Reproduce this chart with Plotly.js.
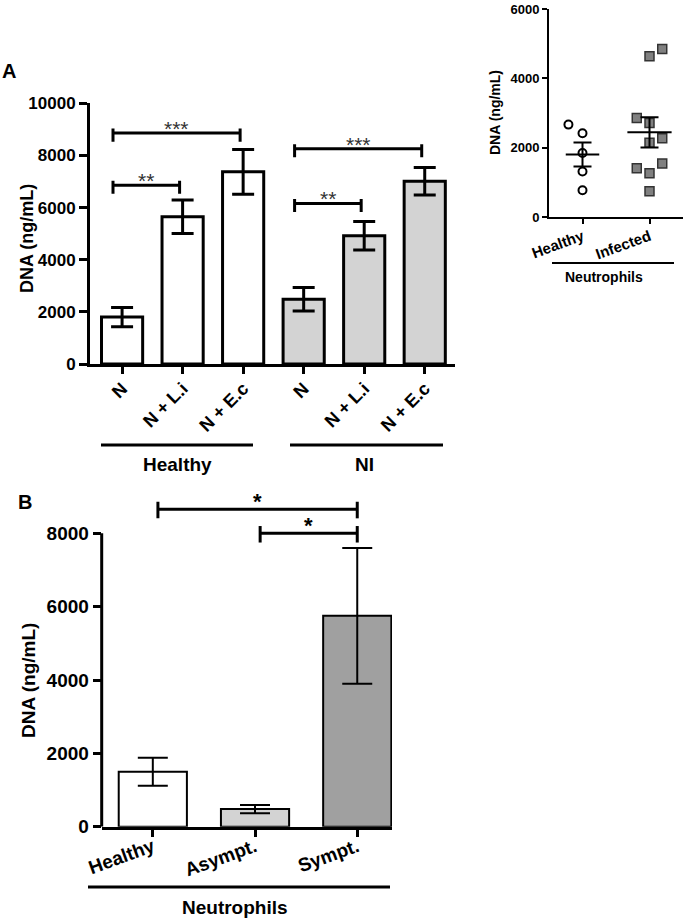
<!DOCTYPE html>
<html><head><meta charset="utf-8">
<script src="https://cdn.plot.ly/plotly-3.0.1.min.js"></script>
<style>html,body{margin:0;padding:0;background:#fff}#chart{width:685px;height:920px}</style>
</head><body><div id="chart"></div>
<script>
// ---------- Panel A data ----------
const aIndex = [0, 1, 2, 3, 4, 5];
const aLabels = ['N', 'N + L.i', 'N + E.c', 'N', 'N + L.i', 'N + E.c'];
const aGroups = ['Healthy', 'Healthy', 'Healthy', 'NI', 'NI', 'NI'];
const aMeans = [1800, 5650, 7370, 2480, 4920, 7010];
const aErrors = [370, 640, 860, 450, 550, 530];
const aTicks = [0, 2000, 4000, 6000, 8000, 10000];
const aSigFrom = [0, 0, 3, 3];
const aSigTo = [2, 1, 5, 4];
const aSigY = [8860, 6860, 8260, 6160];
const aSigText = ['***', '**', '***', '**'];

// ---------- Inset data ----------
const insetGroups = ['Healthy', 'Infected'];
const insetTicks = [0, 2000, 4000, 6000];
const healthyValues = [2670, 2420, 1850, 1320, 780];
const healthyJitter = [-0.21, 0, 0, 0, 0];
const infectedValues = [4640, 4850, 2860, 2720, 2150, 2280, 1410, 1270, 1550, 750];
const infectedJitter = [0, 0.19, -0.19, 0, 0, 0.19, -0.19, 0, 0.19, 0];

// ---------- Panel B data ----------
const bCategories = ['Healthy', 'Asympt.', 'Sympt.'];
const bIndex = [0, 1, 2];
const bMeans = [1500, 480, 5750];
const bErrors = [380, 115, 1850];
const bTicks = [0, 2000, 4000, 6000, 8000];
const bSigFrom = [0, 1];
const bSigTo = [2, 2];
const bSigY = [8660, 8000];
const bSigText = ['*', '*'];

// ---------- helpers ----------
const W = 685, H = 920;
const px = x => x / W;
const py = y => 1 - y / H;
const FONT = 'Liberation Sans, Arial, Helvetica, sans-serif';
const bold = (size, color) => ({family: FONT, size: size, weight: 'bold', color: color || '#000'});

function mean(a) { return a.reduce((s, v) => s + v, 0) / a.length; }
function sem(a) {
  const m = mean(a);
  const v = a.reduce((s, x) => s + (x - m) * (x - m), 0) / (a.length - 1);
  return Math.sqrt(v / a.length);
}
const insetMeans = [mean(healthyValues), mean(infectedValues)];
const insetSems = [sem(healthyValues), sem(infectedValues)];

const traces = [];
// Panel A bars
traces.push({
  type: 'bar', x: aIndex, y: aMeans, xaxis: 'x', yaxis: 'y', width: 0.68,
  marker: {color: aGroups.map(g => g === 'Healthy' ? '#ffffff' : '#d3d3d3'), line: {color: '#000', width: 3}},
  error_y: {type: 'data', array: aErrors, visible: true, color: '#000', thickness: 3, width: 11},
  hoverinfo: 'skip'
});
// Inset points
traces.push({
  type: 'scatter', mode: 'markers', xaxis: 'x2', yaxis: 'y2',
  x: healthyJitter.map(j => 0 + j), y: healthyValues,
  marker: {symbol: 'circle', size: 8, color: '#ffffff', line: {color: '#000', width: 2}},
  hoverinfo: 'skip'
});
traces.push({
  type: 'scatter', mode: 'markers', xaxis: 'x2', yaxis: 'y2',
  x: infectedJitter.map(j => 1 + j), y: infectedValues,
  marker: {symbol: 'square', size: 9, color: '#808080', line: {color: '#333', width: 1.5}},
  hoverinfo: 'skip'
});
// Inset mean lines
const meanHalf = [0.25, 0.33];
insetMeans.forEach((m, i) => {
  traces.push({
    type: 'scatter', mode: 'lines', xaxis: 'x2', yaxis: 'y2',
    x: [i - meanHalf[i], i + meanHalf[i]], y: [m, m],
    line: {color: '#000', width: 2}, hoverinfo: 'skip'
  });
});
// Inset SEM whiskers
traces.push({
  type: 'scatter', mode: 'markers', xaxis: 'x2', yaxis: 'y2',
  x: [0, 1], y: insetMeans,
  marker: {size: 1, color: 'rgba(0,0,0,0)'},
  error_y: {type: 'data', array: insetSems, visible: true, color: '#000', thickness: 2, width: 9},
  hoverinfo: 'skip'
});
// Panel B bars
traces.push({
  type: 'bar', x: bIndex, y: bMeans, xaxis: 'x3', yaxis: 'y3', width: 0.667,
  marker: {color: ['#ffffff', '#d3d3d3', '#a0a0a0'], line: {color: '#000', width: 2}},
  error_y: {type: 'data', array: bErrors, visible: true, color: '#000', thickness: 2, width: 15},
  hoverinfo: 'skip'
});

// ---------- shapes ----------
const shapes = [];
function bracket(xref, yref, x0, x1, y, up, down, w) {
  const line = {color: '#000', width: w};
  shapes.push({type: 'line', xref, yref, x0, x1, y0: y, y1: y, line});
  shapes.push({type: 'line', xref, yref, x0, x1: x0, y0: y - down, y1: y + up, line});
  shapes.push({type: 'line', xref, yref, x0: x1, x1, y0: y - down, y1: y + up, line});
}
aSigFrom.forEach((f, i) => bracket('x', 'y', f - 0.15, aSigTo[i] - 0.05, aSigY[i], 170, 330, 3));
bSigFrom.forEach((f, i) => bracket('x3', 'y3', f + 0.05, bSigTo[i], bSigY[i], 200, 250, 3));
// panel B y-axis line (0..8000)
shapes.push({type: 'line', xref: 'x3 domain', yref: 'y3', x0: 0, x1: 0, y0: 0, y1: bTicks[bTicks.length - 1],
  line: {color: '#000', width: 3}});
// group underlines
function hline(x0, x1, y, w) {
  shapes.push({type: 'line', xref: 'paper', yref: 'paper', x0: px(x0), x1: px(x1), y0: py(y), y1: py(y),
    line: {color: '#000', width: w}});
}
hline(101, 253, 445, 3);
hline(290, 443, 445, 3);
hline(552, 674, 263, 2);
hline(88, 390, 887, 3);

// ---------- annotations ----------
const ann = [];
function txt(text, x, y, font, extra) {
  ann.push(Object.assign({text, xref: 'paper', yref: 'paper', x: px(x), y: py(y),
    xanchor: 'center', yanchor: 'middle', showarrow: false, font}, extra || {}));
}
txt('A', 9, 71, bold(20));
txt('B', 25, 502, bold(20));
txt('DNA (ng/mL)', 27, 239, bold(18), {textangle: -90});
txt('DNA (ng/mL)', 495, 113, bold(14), {textangle: -90});
txt('DNA (ng/mL)', 28, 681, bold(19), {textangle: -90});
txt('Healthy', 177, 464, bold(19));
txt('NI', 364, 464, bold(19));
txt('Neutrophils', 604, 277, bold(14));
txt('Neutrophils', 235, 907, bold(19));
aSigFrom.forEach((f, i) => {
  ann.push({text: aSigText[i], xref: 'x', yref: 'y', x: ((f - 0.15) + (aSigTo[i] - 0.05)) / 2, y: aSigY[i],
    yanchor: 'bottom', yshift: -9, showarrow: false, font: {family: FONT, size: 21, color: '#333'}});
});
bSigFrom.forEach((f, i) => {
  ann.push({text: bSigText[i], xref: 'x3', yref: 'y3', x: ((f + 0.05) + bSigTo[i]) / 2, y: bSigY[i],
    yanchor: 'bottom', yshift: -7, showarrow: false, font: bold(22)});
});

const axisBase = {showgrid: false, zeroline: false, showline: true, linecolor: '#000', ticks: 'outside', tickcolor: '#000'};

const layout = {
  width: W, height: H, margin: {l: 0, r: 0, t: 0, b: 0},
  paper_bgcolor: '#fff', plot_bgcolor: 'rgba(0,0,0,0)', showlegend: false, bargap: 0,
  xaxis: Object.assign({}, axisBase, {domain: [px(90), px(455)], anchor: 'y', range: [-0.53, 5.5],
    tickvals: aIndex, ticktext: aLabels, tickangle: -45, ticklen: 7, tickwidth: 3, linewidth: 3,
    ticklabelstandoff: -3, tickfont: bold(18)}),
  yaxis: Object.assign({}, axisBase, {domain: [py(364), py(103.3)], anchor: 'x', range: [0, 10000.5],
    tickvals: aTicks, ticktext: aTicks.map(String), ticklen: 8, tickwidth: 3, linewidth: 3, tickfont: bold(17)}),
  xaxis2: Object.assign({}, axisBase, {domain: [px(549), px(683)], anchor: 'y2', range: [-0.5, 1.5],
    tickvals: [0, 1], ticktext: insetGroups, tickangle: -20, ticklen: 5, tickwidth: 2, linewidth: 2,
    ticklabelstandoff: -2, tickfont: bold(15)}),
  yaxis2: Object.assign({}, axisBase, {domain: [py(217.3), py(9)], anchor: 'x2', range: [0, 6000.5],
    tickvals: insetTicks, ticktext: insetTicks.map(String), ticklen: 5, tickwidth: 2, linewidth: 2,
    ticklabeloverflow: 'allow', tickfont: bold(13)}),
  xaxis3: Object.assign({}, axisBase, {domain: [px(101.7), px(392)], anchor: 'y3', range: [-0.5, 2.34],
    tickvals: bIndex, ticktext: bCategories, tickangle: -20, ticklen: 7, tickwidth: 3, linewidth: 3,
    ticklabelstandoff: -8, tickfont: bold(19)}),
  yaxis3: Object.assign({}, axisBase, {domain: [py(826.7), py(496.7)], anchor: 'x3', range: [0, 9000], showline: false,
    tickvals: bTicks, ticktext: bTicks.map(String), ticklen: 8, tickwidth: 3, tickfont: bold(19)}),
  shapes: shapes,
  annotations: ann
};

Plotly.newPlot('chart', traces, layout, {staticPlot: true, displayModeBar: false});
</script>
</body></html>
